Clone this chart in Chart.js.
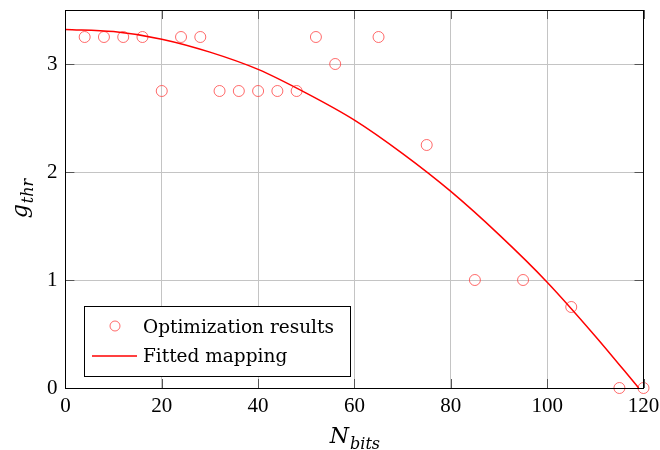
<!DOCTYPE html>
<html>
<head>
<meta charset="utf-8">
<script src="https://cdn.jsdelivr.net/npm/chart.js@4"></script>
<style>
  html, body { margin: 0; padding: 0; background: #fff; }
  #wrap { width: 660px; height: 450px; }
</style>
</head>
<body>
<div id="wrap"><canvas id="myChart" width="660" height="450"></canvas></div>
<script>
// optimization results (N_bits -> g_thr)
const nBits = [4, 8, 12, 16, 20, 24, 28, 32, 36, 40, 44, 48, 52, 56, 65, 75, 85, 95, 105, 115, 120];
const gThr = [3.25, 3.25, 3.25, 3.25, 2.75, 3.25, 3.25, 2.75, 2.75, 2.75, 2.75, 2.75, 3.25, 3.0, 3.25, 2.25, 1.0, 1.0, 0.75, 0, 0];

// fitted mapping
const fitX = [0, 10, 20, 30, 40, 50, 60, 70, 80, 90, 100, 110, 119];
const fitY = [3.32, 3.30, 3.23, 3.11, 2.95, 2.73, 2.48, 2.17, 1.82, 1.42, 0.98, 0.48, 0];

const xTicks = [0, 20, 40, 60, 80, 100, 120];
const yTicks = [0, 1, 2, 3];

const serif = '"Liberation Serif", "DejaVu Serif", serif';
const wideSerif = '"DejaVu Serif", "Liberation Serif", serif';
const ptColor = 'rgba(255, 70, 70, 0.8)';
const lineColor = '#ff0000';

// frame, inner ticks, legend and axis titles (pgfplots look)
const extras = {
  id: 'extras',
  afterDraw(chart) {
    const ctx = chart.ctx;
    const a = chart.chartArea;
    const xs = chart.scales.x, ys = chart.scales.y;
    ctx.save();

    // inner tick marks
    ctx.strokeStyle = '#555';
    ctx.lineWidth = 1;
    ctx.beginPath();
    xTicks.forEach(function (v) {
      const px = Math.round(xs.getPixelForValue(v)) + 0.5;
      ctx.moveTo(px, a.bottom); ctx.lineTo(px, a.bottom - 9);
      ctx.moveTo(px, a.top); ctx.lineTo(px, a.top + 9);
    });
    yTicks.forEach(function (v) {
      const py = Math.round(ys.getPixelForValue(v)) + 0.5;
      ctx.moveTo(a.left, py); ctx.lineTo(a.left + 9, py);
      ctx.moveTo(a.right, py); ctx.lineTo(a.right - 9, py);
    });
    ctx.stroke();

    // frame
    ctx.strokeStyle = '#000';
    ctx.strokeRect(Math.round(a.left) + 0.5, Math.round(a.top) + 0.5,
      Math.round(a.right - a.left), Math.round(a.bottom - a.top));

    // legend box
    const lx = 84.5, ly = 306.5, lw = 266, lh = 70;
    ctx.fillStyle = '#fff';
    ctx.fillRect(lx, ly, lw, lh);
    ctx.strokeRect(lx, ly, lw, lh);
    const ds = chart.data.datasets;
    ctx.strokeStyle = ptColor;
    ctx.beginPath();
    ctx.arc(115, 326, 5, 0, Math.PI * 2);
    ctx.stroke();
    ctx.strokeStyle = lineColor;
    ctx.lineWidth = 1.5;
    ctx.beginPath();
    ctx.moveTo(92, 356); ctx.lineTo(137, 356);
    ctx.stroke();
    ctx.fillStyle = '#000';
    ctx.font = '18.5px ' + wideSerif;
    ctx.textBaseline = 'alphabetic';
    ctx.textAlign = 'left';
    ctx.fillText(ds[0].label, 143, 333);
    ctx.fillText(ds[1].label, 143, 362);

    // axis titles with subscripts
    const mainFont = 'italic 22px ' + wideSerif;
    const subFont = 'italic 16px ' + wideSerif;
    ctx.font = mainFont;
    const wN = ctx.measureText('N').width;
    ctx.font = subFont;
    const wB = ctx.measureText('bits').width;
    let sx = (a.left + a.right) / 2 - (wN + wB) / 2;
    ctx.font = mainFont;
    ctx.fillText('N', sx, 443);
    ctx.font = subFont;
    ctx.fillText('bits', sx + wN + 1, 449);

    ctx.translate(27, (a.top + a.bottom) / 2);
    ctx.rotate(-Math.PI / 2);
    ctx.font = mainFont;
    const wG = ctx.measureText('g').width;
    ctx.font = subFont;
    const wT = ctx.measureText('thr').width;
    sx = -(wG + wT) / 2;
    ctx.font = mainFont;
    ctx.fillText('g', sx, 0);
    ctx.font = subFont;
    ctx.fillText('thr', sx + wG + 1, 6);

    ctx.restore();
  }
};

const ctx = document.getElementById('myChart').getContext('2d');
const myChart = new Chart(ctx, {
  type: 'scatter',
  data: {
    datasets: [{
      label: 'Optimization results',
      data: nBits.map(function (x, i) { return { x: x, y: gThr[i] }; }),
      showLine: false,
      pointStyle: 'circle',
      pointRadius: 5.5,
      pointBorderWidth: 1,
      pointBorderColor: ptColor,
      pointBackgroundColor: 'rgba(0,0,0,0)',
      clip: false,
      order: 1
    }, {
      label: 'Fitted mapping',
      data: fitX.map(function (x, i) { return { x: x, y: fitY[i] }; }),
      showLine: true,
      borderColor: lineColor,
      borderWidth: 1.5,
      pointRadius: 0,
      cubicInterpolationMode: 'monotone',
      clip: false,
      order: 0
    }]
  },
  options: {
    responsive: false,
    animation: false,
    layout: { padding: { top: 10, right: 16.5, left: 0, bottom: 0 } },
    plugins: {
      legend: { display: false },
      tooltip: { enabled: false }
    },
    scales: {
      x: {
        type: 'linear',
        min: 0,
        max: 120,
        afterFit: function (scale) {
          scale.height = 62;
          scale.paddingLeft = 0; scale.paddingRight = 0;
        },
        afterBuildTicks: function (scale) { scale.ticks = xTicks.map(function (v) { return { value: v }; }); },
        grid: { color: '#c4c4c4', lineWidth: 1, drawTicks: false },
        border: { display: false },
        ticks: { color: '#000', padding: 6, font: { family: serif, size: 21 } }
      },
      y: {
        type: 'linear',
        min: 0,
        max: 3.5,
        afterFit: function (scale) {
          scale.width = 65.4;
          scale.paddingTop = 0; scale.paddingBottom = 0;
        },
        afterBuildTicks: function (scale) { scale.ticks = yTicks.map(function (v) { return { value: v }; }); },
        grid: { color: '#c4c4c4', lineWidth: 1, drawTicks: false },
        border: { display: false },
        ticks: { color: '#000', padding: 8, font: { family: serif, size: 21 } }
      }
    }
  },
  plugins: [extras]
});
</script>
</body>
</html>
